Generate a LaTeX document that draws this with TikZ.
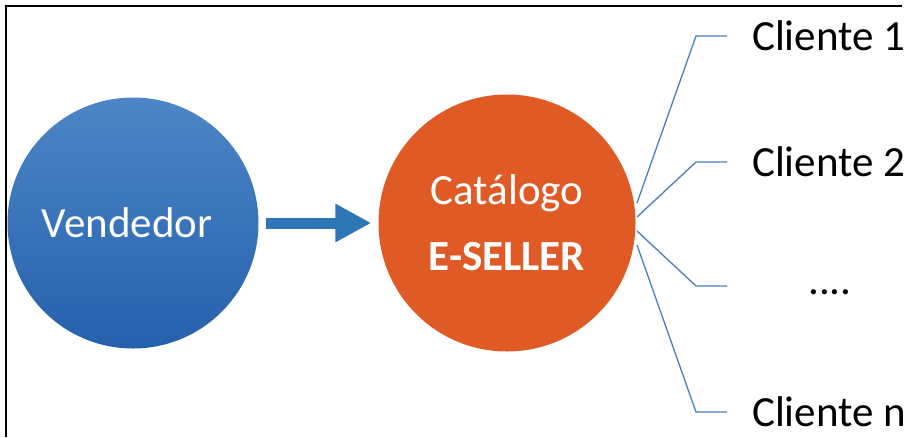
\documentclass[tikz,border=0pt]{standalone}
\usepackage{fontspec}
\setmainfont{Carlito}
\usetikzlibrary{arrows.meta,positioning}

\definecolor{vendtop}{RGB}{76,134,198}
\definecolor{vendbot}{RGB}{38,96,172}
\definecolor{catorange}{RGB}{224,90,38}
\definecolor{arrowblue}{RGB}{46,117,182}
\definecolor{lineblue}{RGB}{74,126,187}

\begin{document}
\begin{tikzpicture}[x=1pt, y=-1pt,
	every node/.style={font=\fontsize{43}{66}\selectfont},
	vendbox/.style={circle, minimum size=251pt, inner sep=0, top color=vendtop, bottom color=vendbot, text=white},
	catbox/.style={circle, minimum size=257pt, inner sep=0, fill=catorange, text=white, align=center},
	client/.style={anchor=west, inner sep=0},
	branch/.style={lineblue, line width=1.3pt}]
	\useasboundingbox (0,0) rectangle (908,437);
	% frame
	\draw[line width=2.5pt] (6,437) -- (6,6) -- (902,6);
	% circles
	\node[vendbox] (vendedor) at (133,223) {Vendedor\hspace*{12pt}};
	\node[catbox] (catalogo) at (507,223) {Cat\'alogo\\\textbf{E-SELLER}};
	\draw[arrowblue, line width=11pt, -{Triangle[length=36pt,width=36pt]}, shorten <=7pt, shorten >=7pt] (vendedor.east) -- (catalogo.west);
	% branches
	\coordinate (s1) at (637,203);
	\coordinate (s2) at (637,217);
	\coordinate (s3) at (637,231);
	\coordinate (s4) at (637,245);
	\coordinate (b1) at (696,36);
	\coordinate (b2) at (696,162);
	\coordinate (b3) at (696,286);
	\coordinate (b4) at (696,412);
	\coordinate (e1) at (727,36);
	\coordinate (e2) at (727,162);
	\coordinate (e3) at (727,286);
	\coordinate (e4) at (727,412);
	\node[client, right=25pt of e1] (c1) {Cliente 1};
	\node[client, right=25pt of e2] (c2) {Cliente 2};
	\node[client, right=81pt of e3, yshift=-6pt] (c3) {....};
	\node[client, right=25pt of e4] (c4) {Cliente n};
	\draw[branch] (s1) -- (b1) -- (e1);
	\draw[branch] (s2) -- (b2) -- (e2);
	\draw[branch] (s3) -- (b3) -- (e3);
	\draw[branch] (s4) -- (b4) -- (e4);
\end{tikzpicture}
\end{document}
